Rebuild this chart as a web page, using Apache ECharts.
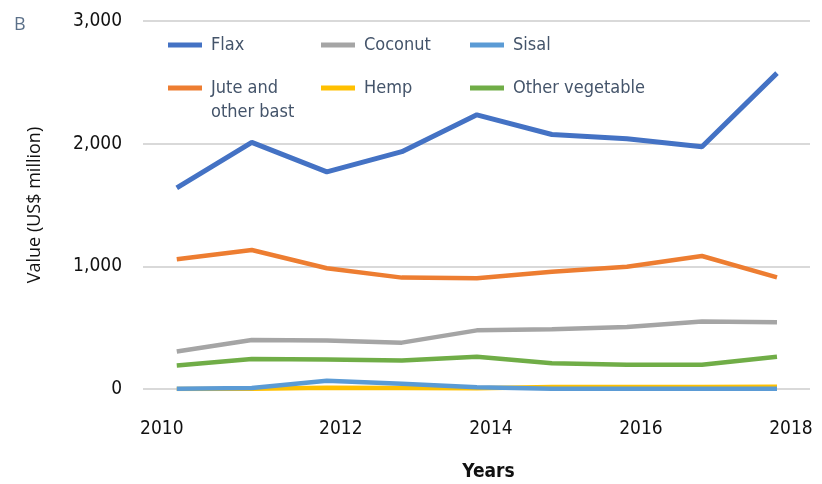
<!DOCTYPE html>
<html>
<head>
<meta charset="utf-8">
<script src="https://cdn.jsdelivr.net/npm/echarts@6/dist/echarts.min.js"></script>
<style>
  html, body { margin: 0; padding: 0; background: #fff; }
  #chartDom { width: 822px; height: 484px; }
</style>
</head>
<body>
<div id="chartDom"></div>
<script>
// data (US$ million)
const years = [2010, 2011, 2012, 2013, 2014, 2015, 2016, 2017, 2018];
const xLabels = [2010, 2012, 2014, 2016, 2018];
const yTicks = [0, 1000, 2000, 3000];

const flax = [1640, 2010, 1770, 1935, 2235, 2075, 2040, 1975, 2575];
const coconut = [305, 400, 395, 378, 478, 488, 505, 550, 545];
const sisal = [2, 8, 68, 42, 14, 2, 2, 2, 2];
const jute = [1057, 1133, 984, 908, 902, 956, 997, 1084, 910];
const hemp = [0, 2, 10, 8, 6, 16, 16, 16, 18];
const otherVeg = [192, 244, 240, 232, 263, 210, 197, 197, 263];

const names = ["Flax", "Coconut", "Sisal", "Jute and\nother bast", "Hemp", "Other vegetable"];
const values = [flax, coconut, sisal, jute, hemp, otherVeg];
const colors = ["#4472c4", "#a5a5a5", "#5b9bd5", "#ed7d31", "#ffc000", "#70ad47"];

const narrow = "'Liberation Sans Narrow', 'DejaVu Sans Condensed', sans-serif";

let myChart = echarts.init(document.getElementById("chartDom"));

// 图例 每项单独摆放，三列两行
const legendLeft = [168, 321, 470];
const legendTop = [33, 76];
let legends = names.map((n, i) => {
  let multi = n.indexOf("\n") >= 0;
  return {
    data: [n],
    left: legendLeft[i % 3],
    // 两行的文字多加一个空行，让第一行和图标对齐
    top: legendTop[Math.floor(i / 3)] - (multi ? 24 : 0),
    padding: 0,
    icon: "rect",
    itemWidth: 34,
    itemHeight: 5,
    selectedMode: false,
    formatter: name => (name.indexOf("\n") >= 0 ? "\n" + name : name),
    textStyle: {
      fontFamily: narrow,
      fontSize: 18,
      color: "#44546a",
      lineHeight: 24,
      padding: [0, 0, 0, 4]
    }
  };
});

myChart.setOption({
  animation: false,
  title: {
    text: "B",
    left: 9,
    top: 11,
    textStyle: { fontFamily: "'Open Sans', sans-serif", fontWeight: "normal", fontSize: 18, color: "#5b7089" }
  },
  legend: legends,
  grid: { left: 143, right: 12, top: 21, bottom: 95, outerBoundsMode: "none", containLabel: false },
  xAxis: {
    type: "value",
    min: 2009.55,
    max: 2018.44,
    name: "Years",
    nameLocation: "middle",
    nameGap: 74,
    nameTextStyle: { fontFamily: narrow, fontWeight: "bold", fontSize: 19, color: "#111", padding: [0, 0, 0, 24] },
    axisLine: { show: false },
    axisTick: { show: false },
    splitLine: { show: false },
    axisLabel: {
      customValues: xLabels,
      margin: 31,
      fontFamily: narrow,
      fontSize: 19,
      color: "#111",
      formatter: v => (v === xLabels[0] ? "{a|" + v + "}" : "{b|" + v + "}"),
      rich: {
        a: { fontFamily: narrow, fontSize: 19, color: "#111", padding: [0, 30, 0, 0] },
        b: { fontFamily: narrow, fontSize: 19, color: "#111", padding: [0, 0, 0, 28] }
      }
    }
  },
  yAxis: {
    type: "value",
    min: yTicks[0],
    max: yTicks[yTicks.length - 1],
    interval: 1000,
    name: "Value (US$ million)",
    nameLocation: "middle",
    nameRotate: 90,
    nameGap: 99,
    nameTextStyle: { fontFamily: "'Open Sans', sans-serif", fontSize: 18, color: "#111" },
    axisLine: { show: false },
    axisTick: { show: false },
    splitLine: { lineStyle: { color: "#d9d9d9", width: 2 } },
    axisLabel: {
      margin: 21,
      fontFamily: narrow,
      fontSize: 19,
      color: "#111",
      formatter: v => v.toLocaleString("en-US")
    }
  },
  series: names.map((n, i) => ({
    name: n,
    type: "line",
    data: years.map((y, k) => [y, values[i][k]]),
    showSymbol: false,
    color: colors[i],
    z: n === "Sisal" ? 3 : 2,
    lineStyle: { width: i === 0 ? 5 : 4.5, color: colors[i] },
    emphasis: { disabled: true }
  }))
});
</script>
</body>
</html>
